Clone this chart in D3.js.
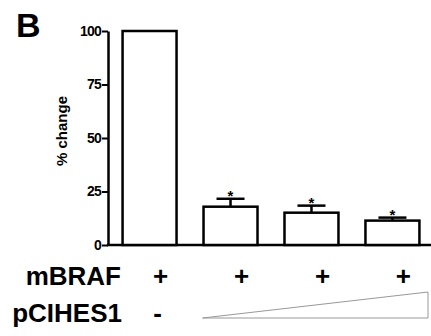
<!DOCTYPE html>
<html>
<head>
<meta charset="utf-8">
<script src="https://cdn.jsdelivr.net/npm/d3@7"></script>
<style>
  body { margin: 0; background: #fff; }
  text { font-family: Arial, "Liberation Sans", sans-serif; font-weight: bold; fill: #000; }
</style>
</head>
<body>
<div id="chart"></div>
<script>
var width = 431, height = 336;

// values
var groups = ["ctrl", "low", "mid", "high"];
var pctChange = [100, 17.9, 15.1, 11.4];
var errUp = [0, 3.7, 3.3, 1.4];
var starred = [false, true, true, true];
var mbrafRow = ["+", "+", "+", "+"];
var yTicks = [0, 25, 50, 75, 100];

var svg = d3.select("#chart").append("svg")
  .attr("width", width)
  .attr("height", height);

var y = d3.scaleLinear().domain([0, 100]).range([245, 31]);
var x = d3.scaleBand().domain(groups)
  .range([108, 434])
  .paddingInner(1 / 3)
  .paddingOuter(0.18);

// panel letter
svg.append("text")
  .attr("x", 16).attr("y", 37)
  .attr("font-size", "34px")
  .text("B");

// y axis
var yAxis = svg.append("g")
  .attr("transform", "translate(108,0)")
  .call(d3.axisLeft(y).tickValues(yTicks).tickSize(6).tickPadding(1).tickSizeOuter(0));
yAxis.select(".domain").attr("stroke-width", 2.5);
yAxis.selectAll(".tick line").attr("stroke-width", 2);
yAxis.selectAll("text").attr("font-size", "14px").style("letter-spacing", "-0.8px");

svg.append("text")
  .attr("transform", "translate(67,131) rotate(-90)")
  .attr("text-anchor", "middle")
  .attr("font-size", "15px")
  .text("% change");

// x axis baseline
svg.append("line")
  .attr("x1", 107).attr("x2", width)
  .attr("y1", y(0)).attr("y2", y(0))
  .attr("stroke", "#000").attr("stroke-width", 2.5);

// bars
svg.selectAll("rect.bar")
  .data(groups)
  .join("rect")
  .attr("class", "bar")
  .attr("x", d => x(d))
  .attr("y", (d, i) => y(pctChange[i]))
  .attr("width", x.bandwidth())
  .attr("height", (d, i) => y(0) - y(pctChange[i]))
  .attr("fill", "#fff")
  .attr("stroke", "#000")
  .attr("stroke-width", 2.5);

// error bars (upper only)
var eb = svg.selectAll("g.err")
  .data(groups.filter((d, i) => errUp[i] > 0))
  .join("g")
  .attr("class", "err");
eb.append("line")
  .attr("x1", d => x(d) + x.bandwidth() / 2)
  .attr("x2", d => x(d) + x.bandwidth() / 2)
  .attr("y1", d => y(pctChange[groups.indexOf(d)]))
  .attr("y2", d => y(pctChange[groups.indexOf(d)] + errUp[groups.indexOf(d)]))
  .attr("stroke", "#000").attr("stroke-width", 2.5);
eb.append("line")
  .attr("x1", d => x(d) + x.bandwidth() / 2 - 14)
  .attr("x2", d => x(d) + x.bandwidth() / 2 + 14)
  .attr("y1", d => y(pctChange[groups.indexOf(d)] + errUp[groups.indexOf(d)]))
  .attr("y2", d => y(pctChange[groups.indexOf(d)] + errUp[groups.indexOf(d)]))
  .attr("stroke", "#000").attr("stroke-width", 2.5);

// significance stars
svg.selectAll("text.star")
  .data(groups.filter((d, i) => starred[i]))
  .join("text")
  .attr("class", "star")
  .attr("x", d => x(d) + x.bandwidth() / 2)
  .attr("y", d => y(pctChange[groups.indexOf(d)] + errUp[groups.indexOf(d)]) + 2)
  .attr("text-anchor", "middle")
  .attr("font-size", "15px")
  .text("*");

// treatment rows under the chart
svg.append("text")
  .attr("x", 121).attr("y", 285)
  .attr("text-anchor", "end")
  .attr("font-size", "26px")
  .text("mBRAF");
svg.append("text")
  .attr("x", 122).attr("y", 322)
  .attr("text-anchor", "end")
  .attr("font-size", "26px")
  .text("pCIHES1");

svg.selectAll("text.plus")
  .data(groups)
  .join("text")
  .attr("class", "plus")
  .attr("x", d => x(d) + x.bandwidth() / 2 + 11)
  .attr("y", 285)
  .attr("text-anchor", "middle")
  .attr("font-size", "26px")
  .text((d, i) => mbrafRow[i]);

svg.append("text")
  .attr("x", x(groups[0]) + x.bandwidth() / 2 + 8)
  .attr("y", 322)
  .attr("text-anchor", "middle")
  .attr("font-size", "26px")
  .text("-");

// dose wedge for increasing pCIHES1
var wx0 = x(groups[1]) - 1, wx1 = 428;
svg.append("path")
  .attr("d", d3.line()([[wx0, 318], [wx1, 318], [wx1, 292], [wx0, 318]]))
  .attr("fill", "none")
  .attr("stroke", "#999")
  .attr("stroke-width", 1);
</script>
</body>
</html>
